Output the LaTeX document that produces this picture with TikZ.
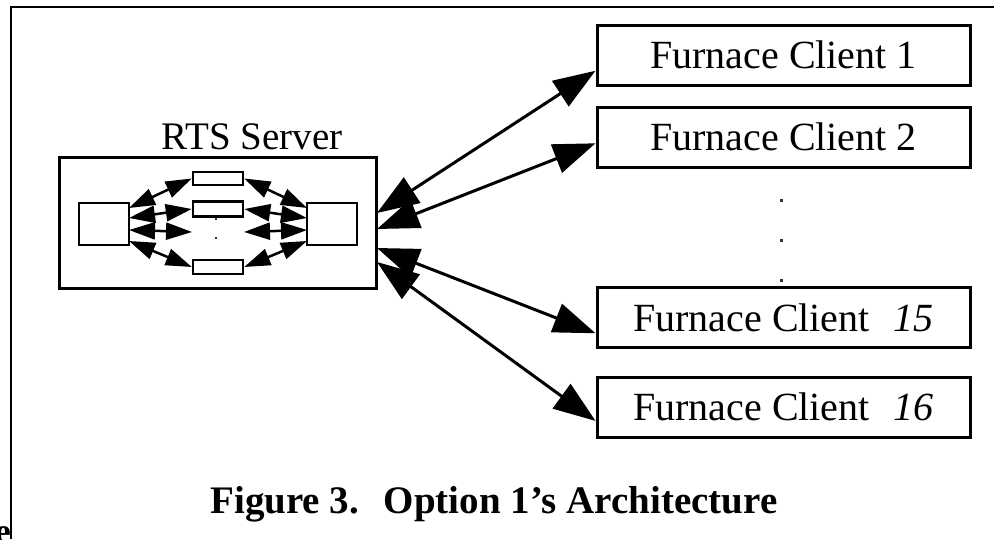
\documentclass[tikz,border=0pt]{standalone}
\usepackage{fontspec}
\setmainfont{Liberation Serif}
\usetikzlibrary{arrows.meta,calc}

\tikzset{
  client/.style={draw, line width=3pt, minimum width=373pt, minimum height=60pt,
    inner sep=0pt, font=\fontsize{40}{44}\selectfont},
  inbox/.style={draw, line width=2.5pt, inner sep=0pt},
  bigarrow/.style={line width=3pt, {Triangle[length=42pt,width=30pt]}-{Triangle[length=42pt,width=30pt]}},
  smallarrow/.style={line width=2.5pt, {Triangle[length=26pt,width=17pt]}-{Triangle[length=26pt,width=17pt]}},
  dotmark/.style={fill=black!80, inner sep=0pt, minimum size=3pt},
}

\begin{document}
\begin{tikzpicture}[x=1pt,y=-1pt]
\useasboundingbox (0,0) rectangle (994,539);

% page frame
\draw[line width=2pt] (11,539) -- (11,7) -- (994,7);
\node[font=\fontsize{36}{36}\selectfont\bfseries, anchor=north east, inner sep=0pt] (cut) at (11,526) {e};

% server
\node[draw, line width=3pt, minimum width=317pt, minimum height=131pt, inner sep=0pt] (srv) at (217.5,222.5) {};
\node[font=\fontsize{39}{44}\selectfont, anchor=base, inner sep=0pt] (srvlabel) at (252,149) {RTS Server};

\node[inbox, minimum width=50pt, minimum height=42pt] (lq) at (104,224) {};
\node[inbox, minimum width=50pt, minimum height=42pt] (rq) at (332,224) {};
\node[inbox, minimum width=50pt, minimum height=13pt] (ra) at (218,178.5) {};
\node[inbox, minimum width=50pt, minimum height=15pt] (rb) at (218,209) {};
\node[inbox, minimum width=50pt, minimum height=14pt] (rc) at (218,267) {};
\node[dotmark, minimum size=2.5pt] (md1) at (216,219) {};
\node[dotmark, minimum size=2.5pt] (md2) at (216,238) {};
\coordinate (ml) at (192,232);
\coordinate (mr) at (244,232);

% internal links
\coordinate (l1) at (129,208);
\coordinate (l2) at (129,218);
\coordinate (l3) at (129,230);
\coordinate (l4) at (129,241);
\coordinate (r1) at (307,208);
\coordinate (r2) at (307,218);
\coordinate (r3) at (307,230);
\coordinate (r4) at (307,241);
\draw[smallarrow] (l1) -- (ra.west);
\draw[smallarrow] (l2) -- (rb.west);
\draw[smallarrow] (l3) -- (ml);
\draw[smallarrow] (l4) -- (rc.west);
\draw[smallarrow] (ra.east) -- (r1);
\draw[smallarrow] (rb.east) -- (r2);
\draw[smallarrow] (mr) -- (r3);
\draw[smallarrow] (rc.east) -- (r4);

% clients
\node[client] (c1) at (783.5,55) {Furnace Client 1};
\node[client] (c2) at (783.5,137) {Furnace Client 2};
\node[client] (c15) at (783.5,317.5) {Furnace Client\hspace{0.6em}\textit{15}};
\node[client] (c16) at (783.5,407) {Furnace Client\hspace{0.6em}\textit{16}};
\node[dotmark] (d1) at (781,200) {};
\node[dotmark] (d2) at (781,240) {};
\node[dotmark] (d3) at (781,280) {};

% server to client links
\coordinate (s1) at (377,213);
\coordinate (s2) at (377,229);
\coordinate (s3) at (377,248);
\coordinate (s4) at (377,262);
\draw[bigarrow] (s1) -- ($(c1.south west)!0.25!(c1.north west)$);
\draw[bigarrow] (s2) -- ($(c2.south west)!0.4!(c2.north west)$);
\draw[bigarrow] (s3) -- ($(c15.south west)!0.25!(c15.north west)$);
\draw[bigarrow] (s4) -- ($(c16.south west)!0.28!(c16.north west)$);

% caption
\node[font=\fontsize{39}{44}\selectfont\bfseries, anchor=base, inner sep=0pt] (cap) at (494,513)
  {Figure 3.\hspace{0.3em} Option 1’s Architecture};
\end{tikzpicture}
\end{document}
